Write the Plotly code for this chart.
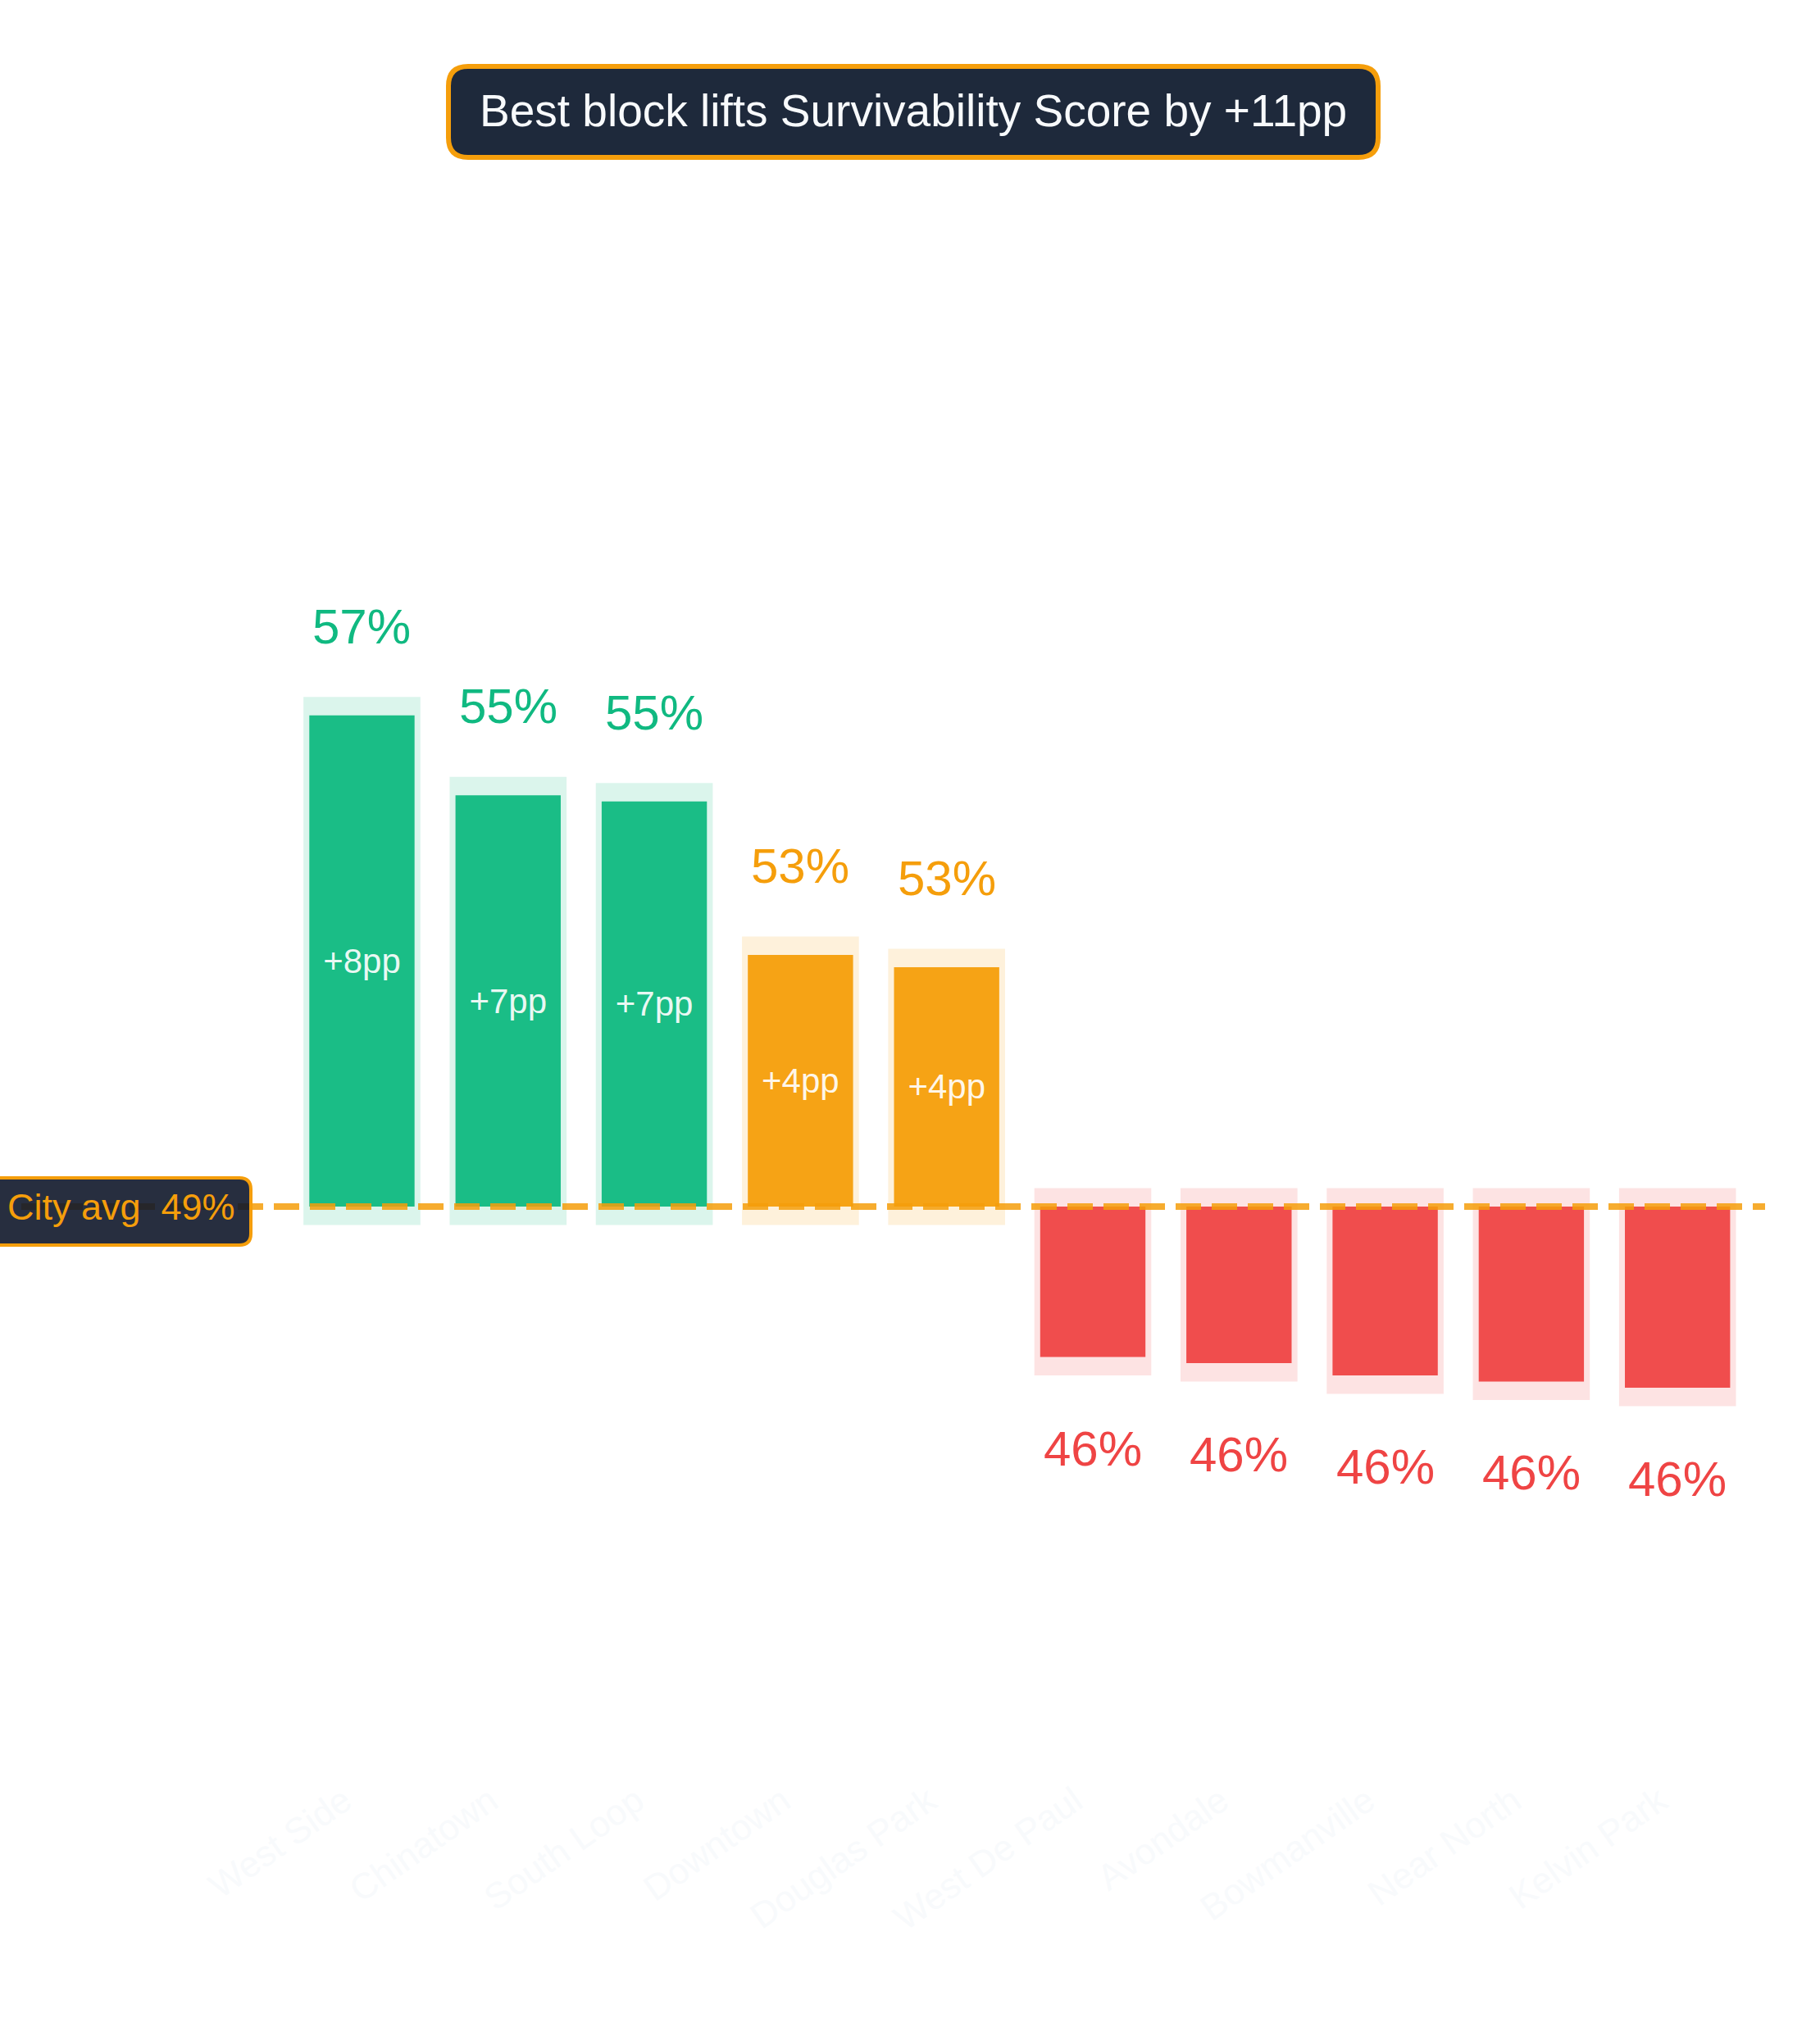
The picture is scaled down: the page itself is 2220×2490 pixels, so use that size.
import plotly.graph_objects as go

# data
neighbourhoods = ['West Side', 'Chinatown', 'South Loop', 'Downtown', 'Douglas Park',
                  'West De Paul', 'Avondale', 'Bowmanville', 'Near North', 'Kelvin Park']
scores    = [56.7, 55.4, 55.3, 52.8, 52.6, 46.25, 46.15, 45.95, 45.85, 45.75]
city_avg  = 48.7
best_lift = 11

# colours
GREEN  = '#10b981'
ORANGE = '#f59e0b'
RED    = '#ef4444'
NAVY   = '#1e293b'
FONT   = 'Liberation Sans, Arial, Helvetica, sans-serif'

# page geometry (window is 2220 x 2490)
W, H = 2220, 2490
M_L, M_R, M_T, M_B = 0, 67, 300, 328
PW, PH = W - M_L - M_R, H - M_T - M_B
PX_PER_PP = 74.9
AVG_Y     = 1472  # pixel row of the city average line


def px(x):
    return (x - M_L) / PW


def py(y):
    return (H - M_B - y) / PH


def rounded_box(x0, y0, x1, y1, r):
    # rounded rectangle in paper coords, built from pixel corners
    a, b, c, d = px(x0), px(x1), py(y0), py(y1)
    rx, ry = r / PW, r / PH
    return (f'M {a + rx},{c} L {b - rx},{c} Q {b},{c} {b},{c - ry} '
            f'L {b},{d + ry} Q {b},{d} {b - rx},{d} '
            f'L {a + rx},{d} Q {a},{d} {a},{d + ry} '
            f'L {a},{c - ry} Q {a},{c} {a + rx},{c} Z')


def tier(delta):
    if delta >= 5:
        return GREEN
    if delta > 0:
        return ORANGE
    return RED


def halo(hex_colour, alpha=0.15):
    h = hex_colour.lstrip('#')
    r, g, b = int(h[0:2], 16), int(h[2:4], 16), int(h[4:6], 16)
    return f'rgba({r},{g},{b},{alpha})'


deltas  = [s - city_avg for s in scores]
colours = [tier(d) for d in deltas]
pad     = 0.3  # halo overhang, in pp

fig = go.Figure()

# pale halo behind every bar
fig.add_trace(go.Bar(
    x            = neighbourhoods,
    y            = [d + 2 * pad if d > 0 else d - 2 * pad for d in deltas],
    base         = [city_avg - pad if d > 0 else city_avg + pad for d in deltas],
    width        = 0.8,
    marker       = dict(color=[halo(c) for c in colours], line=dict(width=0)),
    hoverinfo    = 'skip',
    showlegend   = False
))

# the bars themselves, drawn from the city average
fig.add_trace(go.Bar(
    x                = neighbourhoods,
    y                = deltas,
    base             = city_avg,
    width            = 0.72,
    marker           = dict(color=colours, opacity=0.95, line=dict(width=0)),
    text             = [f'{d:+.0f}pp' if d > 0 else '' for d in deltas],
    textposition     = 'inside',
    insidetextanchor = 'middle',
    textangle        = 0,
    textfont         = dict(family=FONT, size=42, color='rgba(255,255,255,0.92)'),
    showlegend       = False
))

# score labels above / below each bar
for name, s, d, c in zip(neighbourhoods, scores, deltas, colours):
    fig.add_annotation(
        x        = name,
        y        = s,
        text     = f'{s:.0f}%',
        showarrow= False,
        yanchor  = 'bottom' if d > 0 else 'top',
        yshift   = 73 if d > 0 else -76,
        font     = dict(family=FONT, size=60, color=c)
    )

# city average line + its label box
fig.add_shape(
    type='line', xref='paper', yref='y',
    x0=px(26), x1=1, y0=city_avg, y1=city_avg,
    line=dict(color=ORANGE, width=8, dash='31px,13px'),
    opacity=0.85, layer='above'
)
fig.add_shape(
    type='path', xref='paper', yref='paper',
    path=rounded_box(-20, 1437, 306, 1519, 14),
    fillcolor='rgba(15,23,42,0.9)',
    line=dict(color=ORANGE, width=4), layer='above'
)
fig.add_annotation(
    xref='paper', x=px(289), xanchor='right',
    y=city_avg, yanchor='middle',
    text=f'City avg\u00a0 {city_avg:.0f}%',
    showarrow=False,
    font=dict(family=FONT, size=45, color=ORANGE)
)

# headline box
fig.add_shape(
    type='path', xref='paper', yref='paper',
    path=rounded_box(547, 81, 1681, 192, 24),
    fillcolor=NAVY,
    line=dict(color=ORANGE, width=6), layer='above'
)
fig.add_annotation(
    xref='paper', yref='paper',
    x=px(1114), y=py(135), xanchor='center', yanchor='middle',
    text=f'Best block lifts Survivability Score by +{best_lift}pp',
    showarrow=False,
    font=dict(family=FONT, size=55, color='#f8fafc')
)

fig.update_layout(
    barmode       = 'overlay',
    plot_bgcolor  = 'white',
    paper_bgcolor = 'white',
    margin        = dict(l=M_L, r=M_R, t=M_T, b=M_B),
    font          = dict(family=FONT),
    showlegend    = False
)

fig.update_xaxes(
    range          = [-2.476, 9.599],
    tickangle      = -35,
    tickfont       = dict(family=FONT, size=44, color='#f8fafc'),
    ticklabelshift = -22,
    showgrid       = False,
    zeroline       = False,
    showline       = False,
    ticks          = ''
)
fig.update_yaxes(
    range          = [city_avg - (H - M_B - AVG_Y) / PX_PER_PP,
                      city_avg + (AVG_Y - M_T) / PX_PER_PP],
    showgrid       = False,
    zeroline       = False,
    showticklabels = False,
    showline       = False
)

# let the figure use the whole window (no default body margin)
fig.write_html(
    'out.html',
    config      = dict(displayModeBar=False),
    post_script = ("document.body.style.margin='0';"
                   "document.documentElement.style.overflow='hidden';"
                   "Plotly.Plots.resize(document.getElementById('{plot_id}'));")
)
